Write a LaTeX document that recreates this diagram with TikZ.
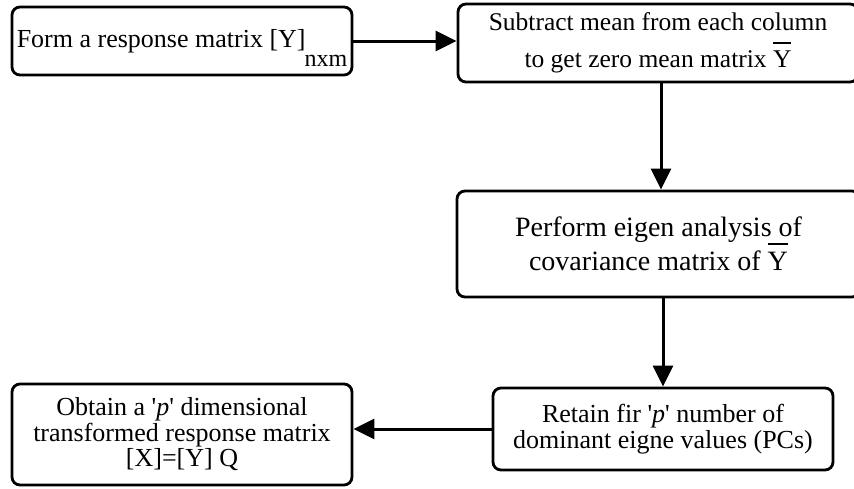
\documentclass[tikz,border=0pt]{standalone}
\usepackage{fontspec}
\setmainfont{Liberation Serif}
\usetikzlibrary{arrows.meta}
\newcommand\myYbar{\leavevmode\vbox{\hrule height 2.5pt\kern 7pt\hbox{Y}}}
\tikzset{
  flowbox/.style={draw=black, line width=2.8pt, rounded corners=8pt, align=center, inner sep=2pt},
  flowarrow/.style={line width=3pt, -{Triangle[length=21pt,width=20pt]}}
}
\begin{document}
\begin{tikzpicture}[x=1pt,y=-1pt]
\useasboundingbox (0,0) rectangle (854,488);
\node[flowbox, minimum width=340pt, minimum height=68pt, text height=18pt, text depth=5pt,
      font={\fontsize{26}{26}\selectfont}] (b1) at (182,41)
  {Form a response matrix [Y]\kern-1pt\raisebox{-19pt}{\fontsize{24}{24}\selectfont nxm}};
\node[flowbox, minimum width=400pt, minimum height=78pt,
      font={\fontsize{25.5}{37}\selectfont}] (b2) at (658,43)
  {Subtract mean from each column\\to get zero mean matrix \myYbar};
\node[flowbox, minimum width=403pt, minimum height=106pt,
      font={\fontsize{28}{34}\selectfont}] (b3) at (658.5,244)
  {Perform eigen analysis of\\covariance matrix of \myYbar};
\node[flowbox, minimum width=340pt, minimum height=82pt,
      font={\fontsize{26}{25.5}\selectfont}] (b4) at (663,429)
  {Retain fir \textquotesingle\textit{p}\textquotesingle{} number of\\dominant eigne values (PCs)};
\node[flowbox, minimum width=340pt, minimum height=101pt,
      font={\fontsize{26}{25.5}\selectfont}] (b5) at (182,434.5)
  {Obtain a \textquotesingle\textit{p}\textquotesingle{} dimensional\\transformed response matrix\\{}[X]=[Y] Q};
\draw[flowarrow] (b1.east) -- (b1.east -| b2.west);
\draw[flowarrow] ([xshift=3pt]b2.south) -- ([xshift=3pt]b2.south |- b3.north);
\draw[flowarrow] (b4.north |- b3.south) -- (b4.north);
\draw[flowarrow] (b4.west) -- (b4.west -| b5.east);
\end{tikzpicture}
\end{document}
